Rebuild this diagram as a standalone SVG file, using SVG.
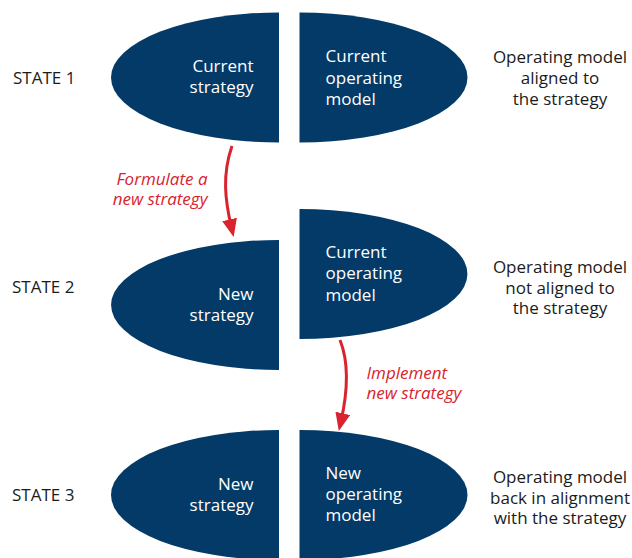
<svg xmlns="http://www.w3.org/2000/svg" width="632" height="558" viewBox="0 0 632 558">
  <style>
    .half { fill: #033a68; }
    .inner { font-family: "Open Sans", "Noto Sans", sans-serif; font-size: 17px; fill: #ffffff; }
    .state { font-family: "Open Sans", "Noto Sans", sans-serif; font-size: 17px; fill: #1b1b1b; }
    .note { font-family: "Open Sans", "Noto Sans", sans-serif; font-size: 17px; fill: #1b1b1b; text-anchor: middle; }
    .action { font-family: "Open Sans", "Noto Sans", sans-serif; font-size: 17px; font-style: italic; fill: #d9232e; }
    .flow { fill: none; stroke: #d9232e; stroke-width: 3; }
  </style>
  <defs>
    <marker id="head" markerUnits="userSpaceOnUse" markerWidth="18" markerHeight="15" refX="9" refY="7.5" orient="auto">
      <path d="M0,0 L18,7.5 L0,15 z" fill="#d9232e"/>
    </marker>
  </defs>

  <rect width="632" height="558" fill="#ffffff"/>

  <!-- State 1 -->
  <g id="state1">
    <text class="state" x="13" y="84">STATE 1</text>
    <g id="state1-strategy">
      <path class="half" d="M279,12.5 A168,65 0 0 0 279,142.5 Z"/>
      <text class="inner" text-anchor="end" x="253.5"><tspan x="253.5" y="72">Current</tspan><tspan x="253.5" y="93">strategy</tspan></text>
    </g>
    <g id="state1-model">
      <path class="half" d="M299.5,12.5 A168,65 0 0 1 299.5,142.5 Z"/>
      <text class="inner" x="325.5"><tspan x="325.5" y="62">Current</tspan><tspan x="325.5" y="83.5">operating</tspan><tspan x="325.5" y="105">model</tspan></text>
    </g>
    <text class="note" x="560"><tspan x="560" y="63">Operating model</tspan><tspan x="560" y="84">aligned to</tspan><tspan x="560" y="105">the strategy</tspan></text>
  </g>

  <!-- State 2 -->
  <g id="state2">
    <text class="state" x="12" y="292.7">STATE 2</text>
    <g id="state2-strategy">
      <path class="half" d="M279,240 A168,65 0 0 0 279,370 Z"/>
      <text class="inner" text-anchor="end" x="253.5"><tspan x="253.5" y="299.5">New</tspan><tspan x="253.5" y="320.5">strategy</tspan></text>
    </g>
    <g id="state2-model">
      <path class="half" d="M299.5,209 A168,65 0 0 1 299.5,339 Z"/>
      <text class="inner" x="325.5"><tspan x="325.5" y="257.5">Current</tspan><tspan x="325.5" y="279">operating</tspan><tspan x="325.5" y="300.5">model</tspan></text>
    </g>
    <text class="note" x="560"><tspan x="560" y="272.7">Operating model</tspan><tspan x="560" y="293.5">not aligned to</tspan><tspan x="560" y="314">the strategy</tspan></text>
  </g>

  <!-- State 3 -->
  <g id="state3">
    <text class="state" x="12" y="501.3">STATE 3</text>
    <g id="state3-strategy">
      <path class="half" d="M279,430 A168,65 0 0 0 279,560 Z"/>
      <text class="inner" text-anchor="end" x="253.5"><tspan x="253.5" y="489.5">New</tspan><tspan x="253.5" y="510.5">strategy</tspan></text>
    </g>
    <g id="state3-model">
      <path class="half" d="M299.5,430 A168,65 0 0 1 299.5,560 Z"/>
      <text class="inner" x="325.5"><tspan x="325.5" y="478.5">New</tspan><tspan x="325.5" y="500">operating</tspan><tspan x="325.5" y="521">model</tspan></text>
    </g>
    <text class="note" x="560"><tspan x="560" y="483">Operating model</tspan><tspan x="560" y="503.5">back in alignment</tspan><tspan x="560" y="524">with the strategy</tspan></text>
  </g>

  <!-- Transitions -->
  <g id="connectors">
    <path class="flow" d="M232,146 C222,175 225,200 231.6,228.2" marker-end="url(#head)"/>
    <text class="action" text-anchor="end" x="207.5"><tspan x="207.5" y="185">Formulate a</tspan><tspan x="207.5" y="205">new strategy</tspan></text>
    <path class="flow" d="M340,340 C350,365 347,395 340.8,422.2" marker-end="url(#head)"/>
    <text class="action" x="366.5"><tspan x="366.5" y="378.5">Implement</tspan><tspan x="366.5" y="399">new strategy</tspan></text>
  </g>
</svg>
